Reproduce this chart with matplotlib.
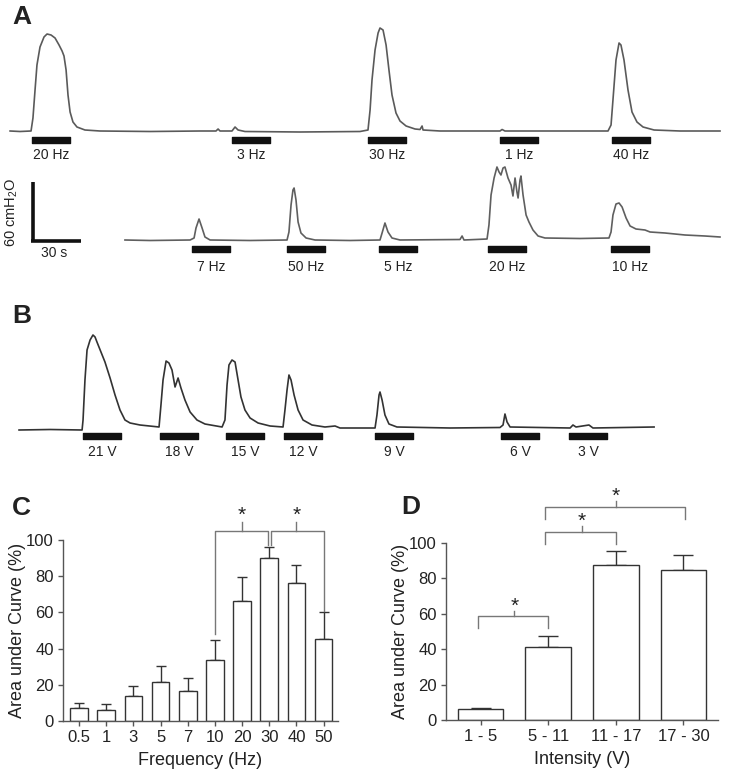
import numpy as np
import matplotlib
matplotlib.use('Agg')
import matplotlib.pyplot as plt

plt.rcParams['font.family'] = ['Liberation Sans', 'DejaVu Sans']
plt.rcParams['mathtext.fontset'] = 'custom'
plt.rcParams['mathtext.rm'] = 'Liberation Sans'
plt.rcParams['mathtext.default'] = 'regular'

W, H = 729, 776
SEC_PER_PX = 0.625   # 30 s scale bar is ~48 px wide

# ---- panel A, upper trace: (time s, pressure cmH2O) ----
a1 = [(6.3, 0), (12.5, -0.5), (19.4, 0), (20.6, 13), (21.9, 41), (23.1, 66), (25, 84),
      (27.5, 94), (29.4, 97), (31.9, 96), (34.4, 93), (36.9, 86), (38.8, 80), (40, 75),
      (41.3, 61), (42.5, 36), (43.8, 19), (45.6, 9), (48.1, 4), (53.1, 1), (62.5, 0),
      (93.8, -0.5), (125, 0), (135, 0), (136.3, 2), (137.5, 0), (145, 0), (146.9, 4),
      (148.8, 1), (153.1, -0.5), (187.5, -1), (225, -0.5), (230, 1), (231.3, 21),
      (232.5, 51), (234.4, 81), (236.3, 98), (237.5, 103), (239.4, 101), (241.3, 86),
      (243.1, 61), (245, 36), (247.5, 18), (250, 10), (253.8, 5), (259.4, 2), (262.5, 1.5),
      (263.8, 5), (264.4, 1), (275, 0), (312.5, 0), (313.8, 1.5), (315.6, 0), (350, 0),
      (380, 0), (381.9, 6), (383.1, 31), (385, 71), (386.9, 88), (388.1, 86), (390, 71),
      (392.5, 41), (395, 19), (398.1, 9), (401.9, 4), (408.8, 1), (425, 0), (450, 0)]
a1_stim = [20, 145, 230, 312.5, 382.5]
a1_labels = ['20 Hz', '3 Hz', '30 Hz', '1 Hz', '40 Hz']

# ---- panel A, lower trace ----
a2 = [(78.1, 0), (93.8, -0.5), (118.8, 0), (121.3, 2), (122.5, 12), (124.4, 21), (126.3, 12),
      (128.1, 3), (131.3, 0), (156.3, -0.5), (179.4, 0), (180.6, 8), (181.9, 35), (183.1, 50),
      (183.8, 52), (185, 40), (186.3, 18), (188.1, 7), (191.3, 2), (196.9, 0), (218.8, -0.5),
      (237.5, 0), (238.8, 7), (240.6, 17), (242.5, 8), (245, 2), (250, 0), (287.5, 0.5),
      (288.8, 4), (290, 0), (304.4, 1), (305.6, 15), (306.9, 45), (308.8, 62), (310.6, 73),
      (311.9, 68), (313.1, 65), (314.4, 72), (315.6, 73), (317.5, 62), (319.4, 55),
      (320.6, 44), (321.9, 62), (323.1, 48), (323.8, 42), (325, 60), (325.6, 64), (326.9, 45),
      (328.8, 25), (330.6, 18), (333.1, 10), (336.3, 4), (340.6, 2), (362.5, 1.5), (380.6, 2),
      (381.9, 8), (383.1, 25), (385, 36), (386.9, 37), (388.8, 33), (391.3, 22), (393.8, 14),
      (397.5, 11), (403.1, 10), (406.3, 8), (415.6, 7), (428.1, 5), (440.6, 4), (450, 3)]
a2_stim = [120, 179.4, 236.9, 305, 381.9]
a2_labels = ['7 Hz', '50 Hz', '5 Hz', '20 Hz', '10 Hz']

# ---- panel B trace ----
b = [(11.9, -2), (31.3, -1.5), (51.3, -2), (51.9, 8), (53.1, 48), (54.4, 78), (56.3, 88),
     (58.1, 93), (59.4, 91), (60.6, 86), (63.1, 76), (65.6, 66), (68.8, 50), (71.9, 33),
     (75, 18), (78.1, 8), (81.3, 5), (87.5, 3), (99.4, 1), (100.6, 23), (101.9, 48),
     (103.8, 67), (105.6, 65), (107.5, 58), (109.4, 41), (111.3, 50), (113.1, 40),
     (115.6, 28), (118.8, 16), (123.1, 8), (128.1, 4), (138.8, 1), (140.6, 8), (141.9, 43),
     (143.1, 63), (145, 68), (146.9, 66), (148.8, 48), (150.6, 31), (153.1, 18), (156.3, 10),
     (161.3, 5), (168.8, 2), (176.9, 1), (178.1, 18), (179.4, 38), (180.6, 53), (181.9, 48),
     (183.8, 33), (186.3, 18), (189.4, 8), (195, 3), (203.1, 1), (209.4, 2), (212.5, 0),
     (234.4, 0), (235.6, 13), (236.9, 33), (237.5, 36), (238.8, 28), (240.6, 13), (243.1, 4),
     (248.1, 1), (281.3, 0), (312.5, 0.5), (314.4, 3), (315.6, 14), (316.9, 6), (318.8, 1),
     (356.3, 0), (358.1, 3), (360, 1), (368.1, 3), (370.6, 0), (408.8, 1)]
b_stim = [51.9, 100, 141.3, 177.5, 234.4, 313.1, 355.6]
b_labels = ['21 V', '18 V', '15 V', '12 V', '9 V', '6 V', '3 V']
STIM_DUR = 24

# ---- panel C ----
freq_labels = ['0.5', '1', '3', '5', '7', '10', '20', '30', '40', '50']
freq_auc = [7, 6, 14, 21.5, 16.5, 33.5, 66.5, 90, 76, 45.5]
freq_sem = [3, 3.5, 5.5, 9, 7.5, 11, 13, 6, 10, 14.5]

# ---- panel D ----
int_labels = ['1 - 5', '5 - 11', '11 - 17', '17 - 30']
int_auc = [6, 41, 87.5, 85]
int_sem = [1, 6.5, 8, 8.5]

fig = plt.figure(figsize=(W / 100, H / 100), dpi=100)


def trace_axes(y_top, y_bot, base):
    ax = fig.add_axes([0, 1 - y_bot / H, 1, (y_bot - y_top) / H])
    ax.set_xlim(0, W * SEC_PER_PX)
    ax.set_ylim(base - y_bot, base - y_top)
    ax.axis('off')
    return ax


def draw_trace(ax, pts, stims, labels, color, lab_y):
    t, p = np.array(pts).T
    ax.plot(t, p, color=color, lw=1.2)
    ax.broken_barh([(s, STIM_DUR) for s in stims], (-11.5, 6), color='#111111')
    for s, lab in zip(stims, labels):
        ax.text(s + STIM_DUR / 2, lab_y, lab, ha='center', va='center', fontsize=10,
                color='#222222')


ax_a1 = trace_axes(0, 170, 131)
draw_trace(ax_a1, a1, a1_stim, a1_labels, '#5a5a5a', -24)

ax_a2 = trace_axes(160, 285, 240)
draw_trace(ax_a2, a2, a2_stim, a2_labels, '#5f5f5f', -27)
# scale bar 30 s x 60 cmH2O
ax_a2.plot([20.6, 20.6], [-2, 58], color='#111111', lw=2.6, solid_capstyle='butt', clip_on=False)
ax_a2.plot([19.6, 50.6], [-1.2, -1.2], color='#111111', lw=2.6, solid_capstyle='butt', clip_on=False)
ax_a2.text(7.5, 28, '60 cmH$_2$O', rotation=90, ha='center', va='center', fontsize=10.5,
           color='#222222')
ax_a2.text(34, -13, '30 s', ha='center', va='center', fontsize=10, color='#222222')

ax_b = trace_axes(290, 470, 428)
draw_trace(ax_b, b, b_stim, b_labels, '#333333', -24)

for lab, x, y in [('A', 12, 17), ('B', 12, 316), ('C', 12, 508), ('D', 401, 507)]:
    fig.text(x / W, 1 - y / H, lab, fontsize=19, fontweight='bold', ha='left', va='center',
             color='#222222')


def bar_panel(rect, labels, vals, errs, width, capsize, xlim, xlabel):
    ax = fig.add_axes(rect)
    x = np.arange(len(vals))
    ax.bar(x, vals, width=width, color='white', edgecolor='#333333', lw=1.0, zorder=2)
    ax.errorbar(x, vals, yerr=[np.zeros(len(errs)), errs], fmt='none', ecolor='#333333',
                elinewidth=1.0, capsize=capsize, capthick=1.0, zorder=1)
    ax.set_xlim(*xlim)
    ax.set_ylim(0, 100)
    ax.set_yticks(range(0, 101, 20))
    ax.set_xticks(x)
    ax.set_xticklabels(labels)
    for s in ['top', 'right']:
        ax.spines[s].set_visible(False)
    for s in ['left', 'bottom']:
        ax.spines[s].set_color('#555555')
        ax.spines[s].set_linewidth(1.0)
    ax.tick_params(direction='out', length=3.5, width=1, color='#555555',
                   labelsize=12, labelcolor='#222222', pad=3)
    ax.set_ylabel('Area under Curve (%)', fontsize=13, color='#222222', labelpad=0)
    ax.set_xlabel(xlabel, fontsize=13, color='#222222', labelpad=5)
    return ax


def bracket(ax, xl, xr, yl, yr, ytop, xm, ytick, ystar):
    kw = dict(color='#777777', lw=1.0, clip_on=False)
    ax.plot([xl, xl, xr, xr], [yl, ytop, ytop, yr], **kw)
    ax.plot([xm, xm], [ytop, ytick], **kw)
    ax.text(xm, ystar, '*', ha='center', va='center', fontsize=15, color='#222222',
            clip_on=False)


ax_c = bar_panel([63 / W, 1 - 721 / H, 275 / W, 181 / H], freq_labels, freq_auc, freq_sem,
                 0.65, 3.5, (-0.59, 9.53), 'Frequency (Hz)')
bracket(ax_c, 5, 6.96, 48, 97, 105, 6, 110, 113.5)
bracket(ax_c, 7.08, 9, 97, 60.5, 105, 8, 110, 113.5)

ax_d = bar_panel([446 / W, 1 - 720 / H, 272 / W, 177 / H], int_labels, int_auc, int_sem,
                 0.675, 7, (-0.51, 3.51), 'Intensity (V)')
bracket(ax_d, -0.03, 1, 52, 52, 58.5, 0.5, 61.7, 64.5)
bracket(ax_d, 0.96, 2, 99.6, 99.6, 106.2, 1.5, 109.4, 112.5)
bracket(ax_d, 0.96, 3.02, 113.6, 113.6, 120.2, 2, 124, 126.5)

fig.savefig('out.png', dpi=100, facecolor='white')
